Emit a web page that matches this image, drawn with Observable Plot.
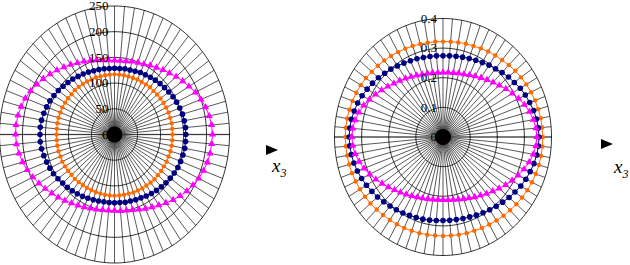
<!DOCTYPE html>
<html><head><meta charset="utf-8">
<script src="https://cdn.jsdelivr.net/npm/d3@7"></script>
<script src="https://cdn.jsdelivr.net/npm/@observablehq/plot@0.6"></script>
<style>
body{margin:0;background:#fff;}
#wrap{position:relative;width:630px;height:265px;overflow:hidden;background:#fff;}
.panel{position:absolute;top:0;}
.arrow{position:absolute;width:0;height:0;border-left:12px solid #000;border-top:5px solid transparent;border-bottom:5px solid transparent;}
.lbl{position:absolute;font:italic 19px "Liberation Serif",serif;line-height:1;color:#000;}
.lbl sub{font-size:12px;font-style:italic;}
</style></head><body>
<div id="wrap">
  <div id="left" class="panel" style="left:0"></div>
  <div id="right" class="panel" style="left:300px"></div>
  <div class="arrow" style="left:266px;top:145px"></div>
  <div class="lbl" style="left:272px;top:156px">x<sub>3</sub></div>
  <div class="arrow" style="left:601px;top:139px"></div>
  <div class="lbl" style="left:614px;top:157px">x<sub>3</sub></div>
</div>
<script>
// angle of each sample (degrees, counter-clockwise from the right)
const angles = [0,5,10,15,20,25,30,35,40,45,50,55,60,65,70,75,80,85,
  90,95,100,105,110,115,120,125,130,135,140,145,150,155,160,165,170,175,
  180,185,190,195,200,205,210,215,220,225,230,235,240,245,250,255,260,265,
  270,275,280,285,290,295,300,305,310,315,320,325,330,335,340,345,350,355];

const leftTicks = [0,50,100,150,200,250];
const rightTicks = [0,0.1,0.2,0.3,0.4];

// left panel series
const leftMagenta = [213,212,209,205,200,194,187,181,175,169,164,159,155,151,149,147,145,144,
  144,145,147,150,153,157,161,166,171,177,183,189,195,201,206,210,213,215,
  215,214,211,207,202,196,190,184,178,173,168,163,159,156,153,151,149,148,
  148,149,150,152,155,159,163,168,174,180,186,192,197,202,206,209,211,212];
const leftNavy = [155,155,154,153,151,149,147,144,142,140,138,136,134,133,131,130,130,129,
  129,129,130,131,132,134,136,138,141,143,146,149,152,155,157,159,161,162,
  162,162,161,159,157,155,153,150,147,145,143,141,139,137,135,134,133,133,
  133,133,134,134,135,136,138,140,142,144,146,148,150,152,153,154,155,155];
const leftOrange = [126,126,126,125,125,124,123,122,121,120,120,119,118,118,117,117,117,117,
  117,117,117,117,118,118,119,120,121,122,122,123,124,125,125,126,126,126,
  126,126,126,126,125,125,124,123,122,122,121,120,120,119,119,119,119,119,
  119,119,119,119,120,120,121,121,122,123,123,124,124,125,125,126,126,126];

// right panel series
const rightOrange = [.368,.367,.366,.363,.361,.358,.355,.351,.348,.343,.339,.336,.333,.330,.327,.326,.324,.323,
  .322,.323,.323,.325,.327,.329,.331,.334,.337,.340,.343,.347,.350,.353,.355,.357,.359,.360,
  .360,.360,.359,.358,.357,.355,.353,.351,.349,.346,.344,.342,.340,.339,.337,.336,.335,.334,
  .334,.334,.335,.336,.337,.339,.341,.344,.347,.350,.353,.356,.359,.362,.364,.366,.367,.368];
const rightNavy = [.354,.353,.350,.346,.340,.335,.329,.321,.315,.308,.301,.296,.290,.286,.282,.279,.277,.275,
  .274,.275,.276,.278,.281,.284,.288,.293,.299,.304,.311,.317,.323,.329,.335,.339,.343,.345,
  .346,.345,.343,.340,.336,.331,.326,.320,.315,.309,.304,.300,.296,.292,.289,.287,.285,.283,
  .282,.282,.283,.285,.287,.291,.295,.300,.305,.311,.318,.324,.331,.337,.342,.347,.351,.353];
const rightMagenta = [.346,.344,.338,.330,.319,.307,.295,.283,.271,.261,.252,.244,.237,.231,.226,.223,.220,.219,
  .218,.218,.220,.222,.225,.229,.235,.241,.248,.256,.266,.276,.287,.299,.311,.321,.329,.334,
  .336,.334,.329,.320,.310,.298,.286,.274,.263,.253,.244,.237,.230,.224,.220,.216,.214,.212,
  .212,.213,.215,.218,.222,.227,.234,.241,.250,.259,.270,.282,.294,.306,.318,.329,.338,.344];

const MAGENTA = "#ff00ff", NAVY = "#000080", ORANGE = "#ff6a00";
const FONT = "Liberation Serif";

function polar(el, {series, ticks, width, height, xRange, yRange, fmt}) {
  const rmax = d3.max(ticks);
  const rad = a => a * Math.PI / 180;
  const spokes = angles.map(a => ({x1: 0, y1: 0, x2: rmax * Math.cos(rad(a)), y2: rmax * Math.sin(rad(a))}));
  const rings = ticks.filter(t => t > 0).flatMap(t =>
    d3.range(0, 361, 2).map(a => ({t, x: t * Math.cos(rad(a)), y: t * Math.sin(rad(a))})));
  const marks = [
    Plot.ruleY([0], {x1: -rmax, x2: rmax, stroke: "#9a9a9a", strokeWidth: 1.6}),
    Plot.link(spokes, {x1: "x1", y1: "y1", x2: "x2", y2: "y2", stroke: "#111", strokeWidth: 0.7}),
    Plot.line(rings, {x: "x", y: "y", z: "t", stroke: "#000", strokeWidth: 0.8}),
    Plot.dot([0], {x: 0, y: 0, r: 8, fill: "#000", stroke: "none"})
  ];
  for (const s of series) {
    const pts = angles.map((a, i) => ({x: s.values[i] * Math.cos(rad(a)), y: s.values[i] * Math.sin(rad(a))}));
    marks.push(Plot.line([...pts, pts[0]], {x: "x", y: "y", stroke: s.color, strokeWidth: 1}));
    marks.push(Plot.dot(pts, {x: "x", y: "y", symbol: s.symbol, r: s.r, fill: s.color, stroke: "none"}));
  }
  marks.push(Plot.text(ticks, {x: 0, y: d => d, text: fmt, textAnchor: "end", dx: -6, dy: 0,
    fontSize: 13, fontFamily: FONT, fill: "#000"}));
  const chart = Plot.plot({
    width, height,
    x: {domain: [-rmax, rmax], range: xRange, axis: null},
    y: {domain: [-rmax, rmax], range: yRange, axis: null},
    style: {background: "transparent", overflow: "hidden"},
    marks
  });
  el.appendChild(chart);
}

polar(document.getElementById("left"), {
  series: [
    {values: leftMagenta, color: MAGENTA, symbol: "triangle", r: 2.7},
    {values: leftNavy, color: NAVY, symbol: "circle", r: 2.8},
    {values: leftOrange, color: ORANGE, symbol: "circle", r: 2.2}
  ],
  ticks: leftTicks, width: 300, height: 265,
  xRange: [-1, 229], yRange: [262.5, 5.5],
  fmt: d => String(d)
});

polar(document.getElementById("right"), {
  series: [
    {values: rightOrange, color: ORANGE, symbol: "circle", r: 2.2},
    {values: rightNavy, color: NAVY, symbol: "circle", r: 2.8},
    {values: rightMagenta, color: MAGENTA, symbol: "triangle", r: 2.7}
  ],
  ticks: rightTicks, width: 330, height: 265,
  xRange: [34, 251], yRange: [255, 18],
  fmt: d => d === 0 ? "0" : d.toFixed(1)
});
</script>
</body></html>
